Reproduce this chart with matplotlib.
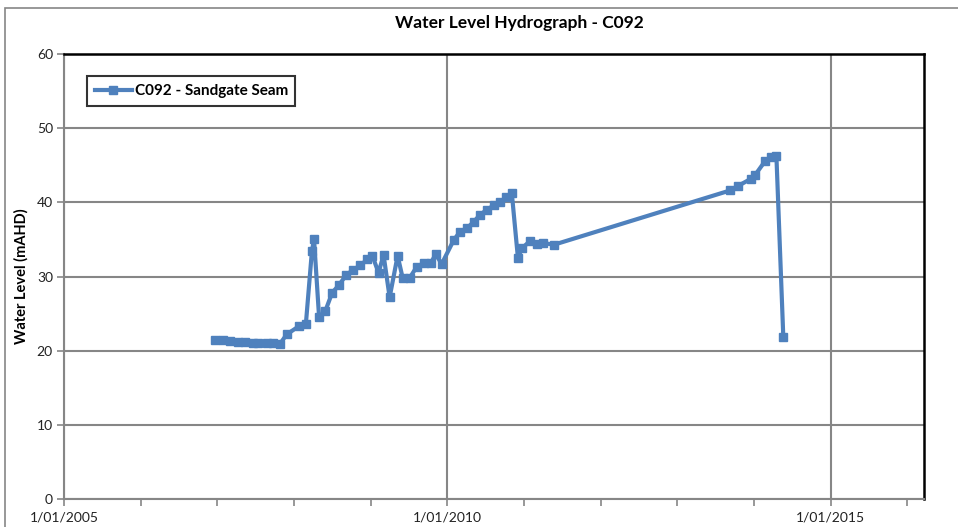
import matplotlib
matplotlib.use("Agg")
import matplotlib.pyplot as plt
import matplotlib.dates as mdates
import pandas as pd
from matplotlib.patches import Rectangle

plt.rcParams["font.family"] = ["Lato", "DejaVu Sans"]

# Data
dates = ["2006-12-19", "2007-01-26", "2007-03-05", "2007-04-12", "2007-05-11",
         "2007-06-18", "2007-07-16", "2007-08-24", "2007-09-22", "2007-10-26",
         "2007-11-28", "2008-01-25", "2008-02-27", "2008-03-27", "2008-04-06",
         "2008-04-30", "2008-05-29", "2008-07-01", "2008-08-04", "2008-09-06",
         "2008-10-10", "2008-11-12", "2008-12-16", "2009-01-09", "2009-02-07",
         "2009-03-03", "2009-04-01", "2009-05-09", "2009-06-02", "2009-07-05",
         "2009-08-08", "2009-09-10", "2009-10-14", "2009-11-06", "2009-12-05",
         "2010-01-31", "2010-03-01", "2010-04-04", "2010-05-07", "2010-06-05",
         "2010-07-08", "2010-08-11", "2010-09-08", "2010-10-07", "2010-11-04",
         "2010-12-03", "2010-12-22", "2011-01-30", "2011-03-04", "2011-04-02",
         "2011-05-25", "2013-09-08", "2013-10-16", "2013-12-18", "2014-01-06",
         "2014-02-23", "2014-03-24", "2014-04-17", "2014-05-20"]
levels = [21.4, 21.5, 21.3, 21.2, 21.2,
          21.0, 21.0, 21.1, 21.1, 20.9,
          22.2, 23.3, 23.6, 33.5, 35.0,
          24.5, 25.3, 27.8, 28.9, 30.2,
          30.9, 31.5, 32.3, 32.8, 30.5,
          32.9, 27.2, 32.8, 29.8, 29.8,
          31.3, 31.8, 31.8, 33.0, 31.7,
          34.9, 36.0, 36.5, 37.4, 38.3,
          39.0, 39.6, 40.0, 40.7, 41.2,
          32.5, 33.8, 34.8, 34.4, 34.5,
          34.3, 41.6, 42.2, 43.2, 43.7,
          45.6, 46.1, 46.3, 21.8]
series_name = "C092 - Sandgate Seam"
x = pd.to_datetime(dates)

blue = "#4F81BD"
grey = "#868686"

fig = plt.figure(figsize=(9.58, 5.27), dpi=100)
ax = fig.add_axes([0.0668, 0.0531, 0.8977, 0.8444])

# Chart-area border
fig.patches.append(Rectangle((5/958, -0.01), 1.0, 1 - 8/527 + 0.01, transform=fig.transFigure,
                             fill=False, edgecolor=grey, linewidth=1.2))

ax.plot(x, levels, color=blue, linewidth=3, marker="s", markersize=5.5,
        label=series_name)

ax.set_xlim(pd.Timestamp("2005-01-01"), pd.Timestamp("2016-03-20"))
ax.set_ylim(0, 60)
ax.set_yticks(range(0, 61, 10))

ax.xaxis.set_major_locator(mdates.YearLocator(5))
ax.xaxis.set_minor_locator(mdates.YearLocator(1))
ax.xaxis.set_major_formatter(mdates.DateFormatter("1/01/%Y"))

ax.grid(True, which="major", color=grey, linewidth=1.5)
ax.set_axisbelow(True)
ax.tick_params(axis="both", which="both", direction="out", color=grey,
               width=1.2, labelsize=10, labelcolor="#222222")
ax.tick_params(axis="x", which="major", length=5, pad=4)
ax.tick_params(axis="x", which="minor", length=5)
ax.tick_params(axis="y", length=5, pad=3)

for s in ["left", "bottom"]:
    ax.spines[s].set_color(grey)
    ax.spines[s].set_linewidth(1.5)
for s in ["top", "right"]:
    ax.spines[s].set_color("black")
    ax.spines[s].set_linewidth(1.8)

ax.set_ylabel("Water Level (mAHD)", fontsize=10.5, fontweight="bold", labelpad=6)
fig.text(0.542, 0.957, "Water Level Hydrograph - C092", ha="center", va="center",
         fontsize=12.5, fontweight="bold")

leg = ax.legend(loc="upper left", bbox_to_anchor=(0.027, 0.950), frameon=True,
                fancybox=False, edgecolor="black", handlelength=2.4,
                handletextpad=0.2, borderpad=0.5, borderaxespad=0,
                prop={"weight": "bold", "size": 11})
leg.get_frame().set_linewidth(1.5)

fig.savefig("out.png", dpi=100)
